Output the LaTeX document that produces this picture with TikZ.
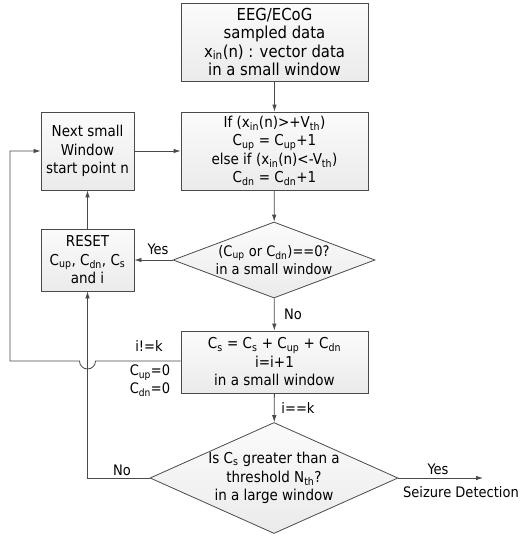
\documentclass[tikz,border=0pt]{standalone}
\usepackage{fontspec}
\setmainfont{DejaVu Sans Condensed}
\usetikzlibrary{shapes.geometric,arrows.meta}
\definecolor{linegray}{HTML}{4A4A4A}
\newcommand\fs[2]{\fontsize{#1}{#2}\selectfont}
\newcommand\lo[1]{\textsubscript{#1}}
\tikzset{
  flow/.style = {draw=linegray, line width=0.8pt, top color=gray!3, bottom color=gray!16, align=center, inner sep=0pt, font=\fs{15}{18.5}},
  fbox/.style args = {#1x#2}{flow, rectangle, minimum width=#1pt, minimum height=#2pt},
  fdec/.style args = {#1x#2}{flow, diamond, minimum width=#1pt, minimum height=#2pt},
  wire/.style = {draw=linegray, line width=0.8pt, -{Latex[length=7pt,width=4.5pt]}},
  lbl/.style = {inner sep=0pt, align=center, font=\fs{14.5}{18}},
}
\begin{document}
\begin{tikzpicture}[x=1pt, y=-1pt]
\useasboundingbox (0,0) rectangle (521,536);
%TODO: the jump over the reset line is drawn by hand
\node [fbox=187x78, font=\fs{16.5}{18.3}] (src) at (274.5,42) {EEG/ECoG\\sampled data\\x\lo{in}(n) : vector data\\in a small window};
\node [fbox=187x78] (cnt) at (274.5,151) {If (x\lo{in}(n)>+V\lo{th})\\C\lo{up} = C\lo{up}+1\\else if (x\lo{in}(n)<-V\lo{th})\\C\lo{dn} = C\lo{dn}+1};
\node [fbox=93x78] (next) at (87.5,151) {Next small\\Window\\start point n};
\node [fbox=93x62] (reset) at (87.5,260) {RESET\\C\lo{up}, C\lo{dn}, C\lo{s}\\and i};
\node [fdec=202x76, aspect=2.66, font=\fs{14.5}{17.5}] (zero) at (274,260) {(C\lo{up} or C\lo{dn})==0?\\in a small window};
\node [fbox=187x62] (sum) at (274.5,362) {C\lo{s} = C\lo{s} + C\lo{up} + C\lo{dn}\\i=i+1\\in a small window};
\node [fdec=248x111, aspect=2.23] (thr) at (274,478) {Is C\lo{s} greater than a\\threshold N\lo{th}?\\in a large window};
\coordinate (out) at (483,478);
\coordinate (jump) at (95.5,361);

\draw [wire] (src) -- (cnt);
\draw [wire] (cnt) -- (zero);
\draw [wire] (zero) -- (reset);
\draw [wire] (reset) -- (next);
\draw [wire] (next) -- (cnt);
\draw [wire] (zero) -- (sum);
\draw [wire] (sum) -- (thr);
\draw [wire] (thr) -- (out);
\draw [wire] (thr.west) -| (reset.south);
\draw [wire] (sum.west |- jump) -- (jump) arc [start angle=0, end angle=-180, radius=8pt] -- (10,361) |- (next.west);

\node [lbl] (yes1) at (158,249) {Yes};
\node [lbl] (no1) at (293,314) {No};
\node [lbl] (ne) at (149,346) {i!=k};
\node [lbl] (clr) at (150,381) {C\lo{up}=0\\C\lo{dn}=0};
\node [lbl] (eq) at (298,408) {i==k};
\node [lbl] (no2) at (122,470) {No};
\node [lbl] (yes2) at (438,469) {Yes};
\node [lbl] (seiz) at (461,492) {Seizure Detection};
\end{tikzpicture}
\end{document}
